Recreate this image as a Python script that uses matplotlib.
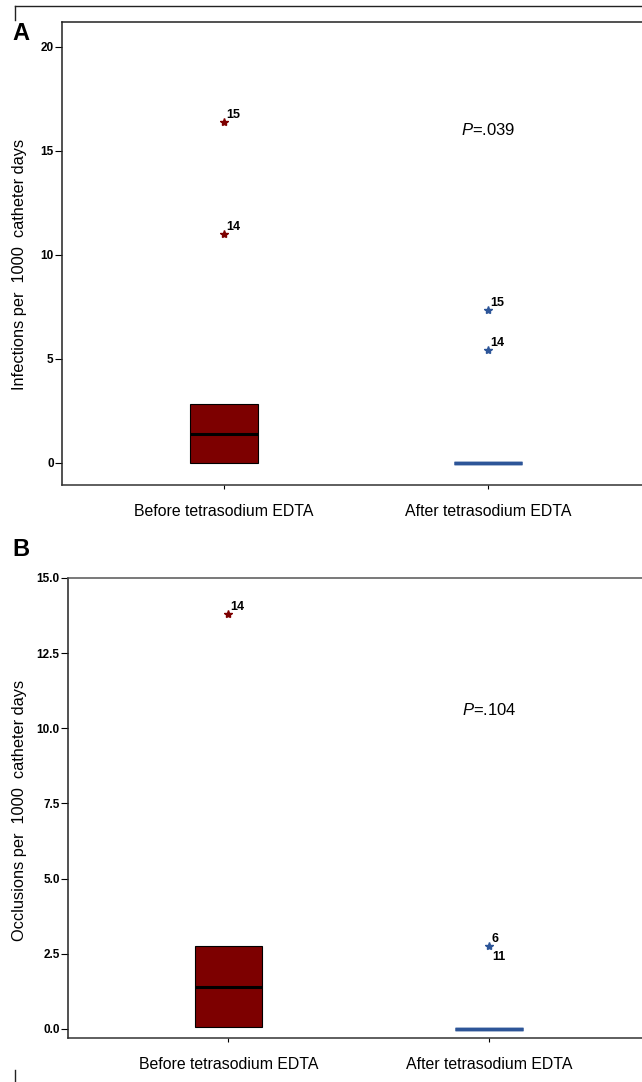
import matplotlib
matplotlib.use("Agg")
from matplotlib import pyplot as plt
from matplotlib.lines import Line2D

plt.rcParams['font.family'] = ['Liberation Sans', 'DejaVu Sans']
plt.rcParams['mathtext.fontset'] = 'custom'
plt.rcParams['mathtext.it'] = 'Liberation Sans:italic'
plt.rcParams['mathtext.rm'] = 'Liberation Sans'

# categories
groups = ["Before tetrasodium EDTA", "After tetrasodium EDTA"]

# panel A: infections per 1000 catheter days (box stats)
infQ1 = [0.0, 0.0]
infMed = [1.4, 0.0]
infQ3 = [2.85, 0.0]
infOutliers = [[16.4, 11.0], [7.35, 5.45]]
infOutlierIds = [["15", "14"], ["15", "14"]]
infP = ".039"

# panel B: occlusions per 1000 catheter days
occQ1 = [0.05, 0.0]
occMed = [1.38, 0.0]
occQ3 = [2.75, 0.0]
occOutliers = [[13.8], [2.75]]
occOutlierIds = [["14"], ["6", "11"]]
occP = ".104"

colours = ["#7d0000", "#2d5598"]


def drawPanel(ax, q1, med, q3, outliers, ids, pText, yTicks, yLabels, ylim,
              ylabel, pY):
    for i in range(2):
        stats = [{"med": med[i], "q1": q1[i], "q3": q3[i],
                  "whislo": q1[i], "whishi": q3[i], "fliers": outliers[i]}]
        if q3[i] > q1[i]:
            boxprops = dict(facecolor=colours[i], edgecolor="black", linewidth=0.8)
            medianprops = dict(color="black", linewidth=2.2)
        else:
            boxprops = dict(facecolor=colours[i], edgecolor=colours[i], linewidth=2.5)
            medianprops = dict(color=colours[i], linewidth=2.5)
        ax.bxp(stats, positions=[i], widths=0.26, patch_artist=True,
               showcaps=False, boxprops=boxprops, medianprops=medianprops,
               whiskerprops=dict(linewidth=0),
               flierprops=dict(marker="*", markersize=6, markerfacecolor=colours[i],
                               markeredgecolor=colours[i], linestyle="none"))
        # outlier case numbers
        for j, label in enumerate(ids[i]):
            y = outliers[i][min(j, len(outliers[i]) - 1)]
            if len(ids[i]) > len(outliers[i]) and j == 1:
                off = (2, -8)
            else:
                off = (1.5, 5)
            ax.annotate(label, (i, y), xytext=off, textcoords="offset points",
                        fontsize=9, fontweight="bold", va="center", ha="left")
    ax.text(1.0, pY, "$\\it{P}$=" + pText, fontsize=12, ha="center", va="center")
    ax.set_xlim(-0.615, 1.585)
    ax.set_ylim(*ylim)
    ax.set_xticks([0, 1])
    ax.set_xticklabels(groups, fontsize=11.4)
    ax.set_yticks(yTicks)
    ax.set_yticklabels(yLabels, fontsize=8.5, fontweight="bold")
    ax.tick_params(axis="y", length=5, width=0.8, pad=1)
    ax.tick_params(axis="x", length=3, width=0.8, pad=11)
    ax.set_ylabel(ylabel, fontsize=11.8)
    ax.spines["right"].set_visible(False)
    ax.spines["left"].set_color("#222222")
    ax.spines["bottom"].set_color("#333333")
    ax.spines["top"].set_color("#555555")
    for s in ax.spines.values():
        s.set_linewidth(1.1)


fig = plt.figure(figsize=(6.42, 10.82), dpi=100)
axA = fig.add_axes([62 / 642, 1 - 485 / 1082, 580 / 642, 463 / 1082])
axB = fig.add_axes([68 / 642, 1 - 1038 / 1082, 574 / 642, 460 / 1082])

drawPanel(axA, infQ1, infMed, infQ3, infOutliers, infOutlierIds, infP,
          [0, 5, 10, 15, 20], ["0", "5", "10", "15", "20"], (-1.06, 21.2),
          "Infections per  1000  catheter days", 16.0)
drawPanel(axB, occQ1, occMed, occQ3, occOutliers, occOutlierIds, occP,
          [0, 2.5, 5, 7.5, 10, 12.5, 15],
          ["0.0", "2.5", "5.0", "7.5", "10.0", "12.5", "15.0"], (-0.3, 15.0),
          "Occlusions per  1000  catheter days", 10.6)
axA.yaxis.set_label_coords(-0.060, 0.477)
axB.yaxis.set_label_coords(-0.071, 0.495)
axA.spines["top"].set_color("#222222")

fig.text(12 / 642, 1 - 33 / 1082, "A", fontsize=17, fontweight="bold", va="center")
fig.text(12 / 642, 1 - 549 / 1082, "B", fontsize=17, fontweight="bold", va="center")

# page frame marks
fig.add_artist(Line2D([15 / 642, 1], [1 - 6 / 1082, 1 - 6 / 1082], color="#222222", lw=1))
fig.add_artist(Line2D([15 / 642, 15 / 642], [1 - 6 / 1082, 1 - 20 / 1082], color="#222222", lw=1))
fig.add_artist(Line2D([15 / 642, 15 / 642], [1 - 1070 / 1082, 0], color="#222222", lw=1))

fig.savefig("out.png", dpi=100)
